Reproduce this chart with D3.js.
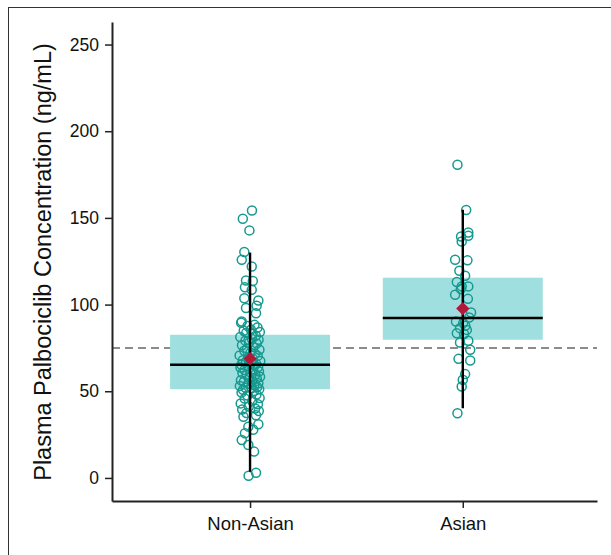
<!DOCTYPE html>
<html>
<head>
<meta charset="utf-8">
<script src="https://cdn.jsdelivr.net/npm/d3@7"></script>
<style>
  html, body { margin: 0; padding: 0; background: #fff; }
  svg { display: block; }
</style>
</head>
<body>
<svg id="chart" width="611" height="555"></svg>
<script>
// ---------------- data ----------------
const categories = ["Non-Asian", "Asian"];
const yTicks = [0, 50, 100, 150, 200, 250];
const referenceLine = [75];

const nonAsianValues = [154.3,149.5,142.8,130.3,125.9,122.0,113.9,113.6,110.0,108.5,103.7,102.4,99.3,98.0,95.0,90.2,
  89.5,88.3,87.6,86.8,85.5,84.9,84.2,83.7,83.1,
  82.0,81.3,80.1,79.7,79.2,78.0,77.6,76.5,75.6,74.6,73.9,73.4,72.2,71.6,70.7,70.4,69.3,68.8,67.9,67.5,66.7,66.2,65.8,65.3,65.1,
  64.6,64.0,63.7,62.7,62.3,61.4,61.0,60.5,59.6,59.2,58.4,57.6,57.3,56.4,55.8,55.5,54.6,54.3,53.5,53.1,52.4,52.0,51.7,51.2,50.9,
  50.2,49.3,48.1,47.6,46.1,45.8,44.4,43.0,42.5,41.2,40.1,39.5,38.6,37.4,36.2,35.3,
  31.0,29.6,27.8,25.8,21.9,19.0,15.2,3.0,1.3];
const nonAsianJitter = [0.009,-0.034,-0.003,-0.027,-0.039,0.008,-0.019,0.013,-0.024,0.008,-0.027,0.039,0.031,-0.019,0.028,-0.039,
  -0.042,0.021,-0.012,0.035,0.004,-0.030,0.046,-0.018,0.012,
  0.027,-0.046,0.009,0.040,-0.022,-0.005,0.031,-0.038,0.016,-0.014,0.044,-0.027,0.002,0.023,-0.049,0.036,-0.008,0.013,-0.034,0.048,-0.019,0.006,0.029,-0.041,0.019,
  -0.011,0.038,-0.045,0.015,-0.026,0.042,0.001,-0.036,0.025,-0.016,0.047,-0.004,0.032,-0.043,0.011,-0.029,0.039,-0.009,0.020,-0.048,0.034,-0.021,0.007,0.043,-0.033,
  0.018,-0.040,0.030,-0.013,0.045,-0.025,0.010,-0.044,0.037,-0.006,0.024,-0.037,0.041,-0.017,0.028,-0.031,
  0.039,-0.008,0.015,-0.024,-0.039,-0.008,0.019,0.028,-0.007];

const asianValues = [180.7,154.6,141.6,139.7,139.3,136.4,125.9,125.5,119.5,116.6,113.0,110.5,110.5,109.0,105.7,103.3,
  95.4,92.5,90.2,89.3,87.8,86.4,85.4,83.5,83.0,79.1,78.1,73.9,68.7,67.7,59.9,56.6,52.7,37.3];
const asianJitter = [-0.025,0.016,0.026,0.026,-0.008,-0.005,-0.036,0.022,-0.016,0.011,-0.028,-0.005,0.026,-0.009,-0.036,0.024,
  0.039,0.030,-0.032,0.002,0.012,-0.013,0.019,-0.028,0.006,0.026,-0.013,0.035,-0.020,0.035,0.011,0.000,-0.005,-0.025];

// summary statistics per category
const boxQ1       = [51.2, 79.7];
const boxMedian   = [65.3, 92.3];
const boxQ3       = [82.6, 115.5];
const whiskerLow  = [3.6, 40.2];
const whiskerHigh = [130.0, 154.7];
const groupMean   = [68.8, 97.7];

// ---------------- layout ----------------
const svg = d3.select("#chart");
const boxHalf = 0.376;

const x = d3.scaleLinear().domain([-0.649, 1.631]).range([112, 597]);
const y = d3.scaleLinear().domain([-13.3, 263]).range([501, 22]);

// outer frame
svg.append("rect")
  .attr("x", 8.5).attr("y", 7.5)
  .attr("width", 700).attr("height", 700)
  .attr("fill", "none").attr("stroke", "#333").attr("stroke-width", 1);

// reference dashed line
svg.append("g").selectAll("line").data(referenceLine).join("line")
  .attr("x1", x(-0.649)).attr("x2", x(1.631))
  .attr("y1", d => y(d)).attr("y2", d => y(d))
  .attr("stroke", "#8c8c8c").attr("stroke-width", 2)
  .attr("stroke-dasharray", "8,5");

// boxes
svg.append("g").selectAll("rect").data(categories).join("rect")
  .attr("x", (d, i) => x(i - boxHalf))
  .attr("width", (d, i) => x(i + boxHalf) - x(i - boxHalf))
  .attr("y", (d, i) => y(boxQ3[i]))
  .attr("height", (d, i) => y(boxQ1[i]) - y(boxQ3[i]))
  .attr("fill", "#a0dfdf");

// points
const pts = [];
nonAsianValues.forEach((v, k) => pts.push({g: 0, v, j: nonAsianJitter[k] || 0}));
asianValues.forEach((v, k) => pts.push({g: 1, v, j: asianJitter[k] || 0}));
svg.append("g").selectAll("circle").data(pts).join("circle")
  .attr("cx", d => x(d.g + d.j))
  .attr("cy", d => y(d.v))
  .attr("r", 4.5)
  .attr("fill", "none")
  .attr("stroke", "#16998f")
  .attr("stroke-width", 1.5);

// whiskers
svg.append("g").selectAll("line").data(categories).join("line")
  .attr("x1", (d, i) => x(i)).attr("x2", (d, i) => x(i))
  .attr("y1", (d, i) => y(whiskerHigh[i])).attr("y2", (d, i) => y(whiskerLow[i]))
  .attr("stroke", "#000").attr("stroke-width", 2.4);

// medians
svg.append("g").selectAll("line").data(categories).join("line")
  .attr("x1", (d, i) => x(i - boxHalf)).attr("x2", (d, i) => x(i + boxHalf))
  .attr("y1", (d, i) => y(boxMedian[i])).attr("y2", (d, i) => y(boxMedian[i]))
  .attr("stroke", "#000").attr("stroke-width", 2.6);

// means (diamonds)
svg.append("g").selectAll("path").data(categories).join("path")
  .attr("d", d3.symbol(d3.symbolSquare, 88))
  .attr("transform", (d, i) => `translate(${x(i)},${y(groupMean[i])}) rotate(45)`)
  .attr("fill", "#b2183a");

// axes
const yAxis = svg.append("g")
  .attr("transform", `translate(${x(-0.649)},0)`)
  .call(d3.axisLeft(y).tickValues(yTicks).tickSize(7).tickSizeOuter(0).tickPadding(6));
const xAxis = svg.append("g")
  .attr("transform", `translate(0,${y(-13.3)})`)
  .call(d3.axisBottom(x).tickValues([0, 1]).tickFormat(i => categories[i])
        .tickSize(7).tickSizeOuter(0).tickPadding(9));

[yAxis, xAxis].forEach(a => {
  a.select(".domain").attr("stroke", "#222").attr("stroke-width", 2);
  a.selectAll(".tick line").attr("stroke", "#222").attr("stroke-width", 1.5);
  a.selectAll("text").attr("fill", "#111")
    .style("font-family", "'Liberation Sans', Arial, Helvetica, sans-serif");
});
yAxis.selectAll("text").style("font-size", "17.5px");
xAxis.selectAll("text").style("font-size", "18.5px");

// y axis title
svg.append("text")
  .attr("transform", `translate(51,262) rotate(-90)`)
  .attr("text-anchor", "middle")
  .style("font-family", "'Liberation Sans', Arial, Helvetica, sans-serif")
  .style("font-size", "23.5px")
  .attr("fill", "#111")
  .text("Plasma Palbociclib Concentration (ng/mL)");
</script>
</body>
</html>
